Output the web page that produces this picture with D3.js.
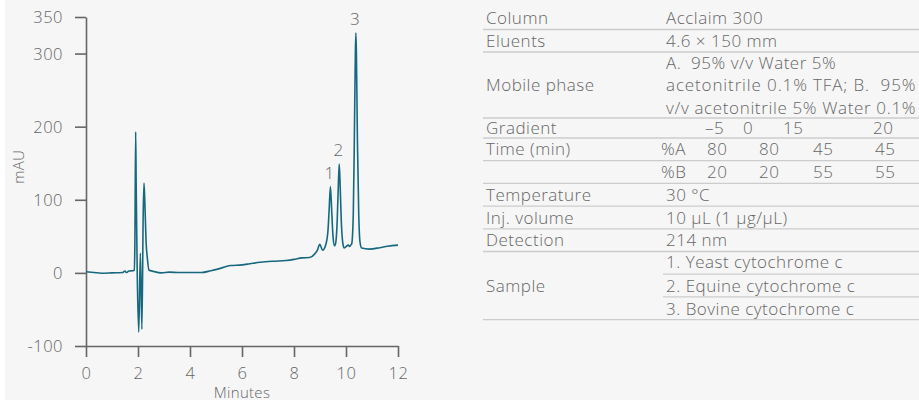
<!DOCTYPE html>
<html>
<head>
<meta charset="utf-8">
<script src="https://cdn.jsdelivr.net/npm/d3@7"></script>
<style>
  html, body { margin: 0; padding: 0; background: #ffffff; }
  svg { display: block; }
  text { font-family: "Open Sans", "Helvetica Neue", Arial, sans-serif; font-weight: 300; fill: #666666; }
</style>
</head>
<body>
<svg id="chart" width="919" height="400"></svg>
<script>
// ---------------- DATA ----------------
const timeMin = [
  0, 0.3, 0.6, 1.0, 1.4, 1.5, 1.55, 1.65, 1.8, 1.86,
  1.88, 1.91, 1.93, 1.97, 2.03, 2.09, 2.15, 2.2, 2.23, 2.26, 2.31, 2.36, 2.42, 2.6, 2.9, 3.2, 3.6, 4.0, 4.45,
  4.8, 5.2, 5.55, 6.0, 6.3, 6.7, 7.2, 7.7, 8.0, 8.3, 8.6, 8.8, 8.9, 8.99, 9.1,
  9.2, 9.3, 9.35, 9.4, 9.45, 9.5, 9.56,
  9.6, 9.66, 9.71, 9.74, 9.77, 9.82, 9.88, 9.93,
  10.0, 10.09, 10.14, 10.18, 10.22, 10.28, 10.32, 10.36, 10.38, 10.40, 10.44, 10.49, 10.54, 10.6,
  10.9, 11.3, 11.6, 12.0
];
const absorbance = [
  1.5, 0.5, -0.5, 0, 0.5, 2.5, 0.5, 2.5, 3, 3.5,
  40, 193, 120, 0, -81, 27, -77, 80, 123, 100, 43, 20, 4, 2, 0, 1, 0.5, 0.5, 0.5,
  3, 6.5, 10, 11, 12.5, 14.5, 16, 17, 18.5, 20.5, 21, 26, 31, 39, 31,
  36, 55, 85, 118, 85, 50, 37,
  40, 70, 125, 149, 125, 70, 40, 34,
  36, 38, 36, 38, 40, 80, 180, 300, 328, 300, 180, 80, 42, 34,
  32.5, 34.5, 36.5, 38
];
const peakLabels = ["1", "2", "3"];
const peakTimes = [9.4, 9.74, 10.38];
const peakHeights = [118, 149, 328];

const yTicks = [-100, 0, 100, 200, 300, 350];
const xTicks = [0, 2, 4, 6, 8, 10, 12];
const xTitle = "Minutes";
const yTitle = "mAU";

const tableLabels = ["Column", "Eluents", "Mobile phase", "Gradient", "Time (min)", "", "Temperature", "Inj. volume", "Detection", "Sample"];
const tableValues = [
  ["Acclaim 300"],
  ["4.6 × 150 mm"],
  ["A.  95% v/v Water 5%", "acetonitrile 0.1% TFA; B.  95%", "v/v acetonitrile 5% Water 0.1%"],
  [],
  [],
  [],
  ["30 °C"],
  ["10 µL (1 µg/µL)"],
  ["214 nm"],
  ["1. Yeast cytochrome c", "2. Equine cytochrome c", "3. Bovine cytochrome c"]
];
const gradientTimes = ["–5", "0", "15", "20"];
const percentA = ["80", "80", "45", "45"];
const percentB = ["20", "20", "55", "55"];

// ---------------- LAYOUT ----------------
const svg = d3.select("#chart");
svg.append("rect").attr("x", 5).attr("y", 0).attr("width", 914).attr("height", 400).attr("fill", "#f6f6f6");

const x = d3.scaleLinear().domain([0, 12]).range([86, 398]);
const y = d3.scaleLinear().domain([-100, 350]).range([346, 17]);

const axisColor = "#666666";

const yAxis = svg.append("g").attr("transform", "translate(86,0)")
  .call(d3.axisLeft(y).tickValues(yTicks).tickSize(11).tickPadding(12).tickSizeOuter(0).tickFormat(d => String(d)));
const xAxis = svg.append("g").attr("transform", "translate(0,346)")
  .call(d3.axisBottom(x).tickValues(xTicks).tickSize(11).tickPadding(10.5).tickSizeOuter(0));
[yAxis, xAxis].forEach(g => {
  g.select(".domain").attr("stroke", axisColor).attr("stroke-width", 1.6);
  g.selectAll(".tick line").attr("stroke", axisColor).attr("stroke-width", 1.6);
  g.selectAll(".tick text").attr("fill", "#666666").style("font-size", "16.5px")
    .style("letter-spacing", "0.5px")
    .style("font-family", '"Open Sans", Arial, sans-serif').style("font-weight", 300);
});
yAxis.selectAll(".tick text").attr("dy", "0.36em");

svg.append("text").attr("x", x(6)).attr("y", 397.5).attr("text-anchor", "middle")
  .style("font-size", "15px").style("letter-spacing", "0.3px").text(xTitle);
svg.append("text").attr("transform", `translate(24,${y(145)}) rotate(-90)`).attr("text-anchor", "middle")
  .style("font-size", "15px").style("letter-spacing", "0.3px").text(yTitle);

const pts = timeMin.map((t, i) => [t, absorbance[i]]);
const line = d3.line().x(d => x(d[0])).y(d => y(d[1])).curve(d3.curveMonotoneX);
svg.append("path").datum(pts).attr("d", line)
  .attr("fill", "none").attr("stroke", "#17687f").attr("stroke-width", 1.6).attr("stroke-linejoin", "round");

svg.selectAll(".peaklbl").data(peakLabels).enter().append("text")
  .attr("class", "peaklbl")
  .attr("x", (d, i) => x(peakTimes[i]) - 1)
  .attr("y", (d, i) => y(peakHeights[i]) - 8)
  .attr("text-anchor", "middle").style("font-size", "17px").text(d => d);

// ---------------- TABLE ----------------
const tLeft = 483, tRight = 919, labelX = 486, valueX = 666;
const rowHeights = [22.5, 22.5, 66, 20, 22.7, 22.7, 22.7, 22.7, 22.7, 68.1];
const table = svg.append("g").style("font-size", "17px").style("letter-spacing", "0.5px");
let rowTop = 7;
const lineColor = "#cccccc";
tableLabels.forEach((lab, i) => {
  const h = rowHeights[i];
  const vals = tableValues[i];
  const nLines = Math.max(1, vals.length);
  const firstCenter = nLines > 1 ? rowTop + 10.5 : rowTop + h / 2;
  table.append("text").attr("x", labelX).attr("y", rowTop + h / 2).attr("dy", "0.36em").text(lab);
  vals.forEach((v, j) => {
    const cy = firstCenter + j * (nLines > 1 ? (h - 21) / (nLines - 1) : 0);
    const t = table.append("text").attr("x", valueX).attr("y", cy).attr("dy", "0.36em")
      .attr("xml:space", "preserve").text(v);
    if (i === 2 && j > 0) {
      // justified lines of the mobile phase paragraph
      t.attr("textLength", 250).attr("lengthAdjust", "spacing");
    }
    if (i === 9 && j < nLines - 1) {
      const ly = rowTop + (j + 1) * (h / nLines);
      table.append("line").attr("x1", 663).attr("x2", tRight).attr("y1", ly).attr("y2", ly)
        .attr("stroke", lineColor).attr("stroke-width", 1.3);
    }
  });
  if (i === 3) {
    const gx = [705, 743, 783, 873];
    gradientTimes.forEach((g, k) => table.append("text").attr("x", gx[k]).attr("y", rowTop + h / 2).attr("dy", "0.36em").text(g));
  }
  if (i === 4 || i === 5) {
    const arr = i === 4 ? percentA : percentB;
    table.append("text").attr("x", 661).attr("y", rowTop + h / 2).attr("dy", "0.36em").text(i === 4 ? "%A" : "%B");
    const px = [707, 759, 813, 875];
    arr.forEach((g, k) => table.append("text").attr("x", px[k]).attr("y", rowTop + h / 2).attr("dy", "0.36em").text(g));
  }
  rowTop += h;
  table.append("line").attr("x1", tLeft).attr("x2", tRight).attr("y1", rowTop).attr("y2", rowTop)
    .attr("stroke", lineColor).attr("stroke-width", 1.3);
});
</script>
</body>
</html>
